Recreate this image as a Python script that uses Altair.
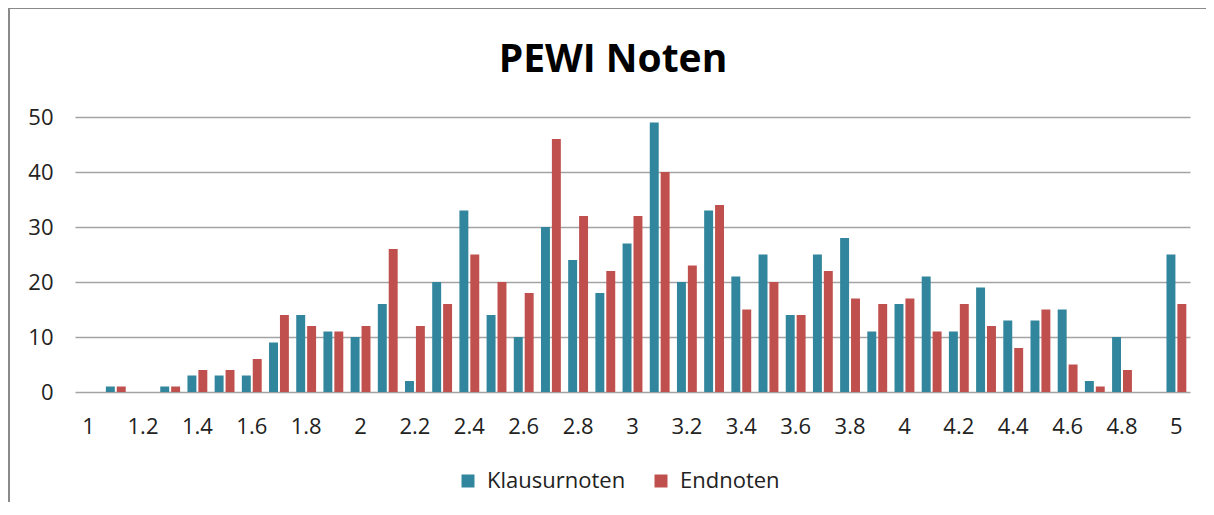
import altair as alt
import pandas as pd

grades = ["1", "1.1", "1.2", "1.3", "1.4", "1.5", "1.6", "1.7", "1.8", "1.9",
          "2", "2.1", "2.2", "2.3", "2.4", "2.5", "2.6", "2.7", "2.8", "2.9",
          "3", "3.1", "3.2", "3.3", "3.4", "3.5", "3.6", "3.7", "3.8", "3.9",
          "4", "4.1", "4.2", "4.3", "4.4", "4.5", "4.6", "4.7", "4.8", "4.9",
          "5"]
klausurnoten = [0, 1, 0, 1, 3, 3, 3, 9, 14, 11,
                10, 16, 2, 20, 33, 14, 10, 30, 24, 18,
                27, 49, 20, 33, 21, 25, 14, 25, 28, 11,
                16, 21, 11, 19, 13, 13, 15, 2, 10, 0,
                25]
endnoten = [0, 1, 0, 1, 4, 4, 6, 14, 12, 11,
            12, 26, 12, 16, 25, 20, 18, 46, 32, 22,
            32, 40, 23, 34, 15, 20, 14, 22, 17, 16,
            17, 11, 16, 12, 8, 15, 5, 1, 4, 0,
            16]
series = ["Klausurnoten", "Endnoten"]
colors = ["#31859C", "#C0504D"]
tick_labels = ["1", "1.2", "1.4", "1.6", "1.8", "2", "2.2", "2.4", "2.6", "2.8",
               "3", "3.2", "3.4", "3.6", "3.8", "4", "4.2", "4.4", "4.6", "4.8", "5"]
y_ticks = [0, 10, 20, 30, 40, 50]
title_text = ["PEWI Noten"]

df = pd.DataFrame({
    "Note": grades * 2,
    "Serie": [series[0]] * len(grades) + [series[1]] * len(grades),
    "Anzahl": klausurnoten + endnoten,
})

FONT = "Open Sans"

bars = alt.Chart(df).mark_bar().encode(
    x=alt.X("Note:N", sort=grades,
            scale=alt.Scale(paddingInner=0.27, paddingOuter=0.135),
            axis=alt.Axis(values=tick_labels, labelAngle=0, title=None, domain=False,
                          ticks=False, labelPadding=24, labelOverlap=False, grid=False)),
    xOffset=alt.XOffset("Serie:N", sort=series, scale=alt.Scale(paddingInner=0.18)),
    y=alt.Y("Anzahl:Q", scale=alt.Scale(domain=[0, 50], nice=False),
            axis=alt.Axis(values=y_ticks, title=None, domain=False, ticks=False,
                          labelPadding=22, gridColor="#A3A3A3", gridWidth=1.5)),
    color=alt.Color("Serie:N", sort=series,
                    scale=alt.Scale(domain=series, range=colors),
                    legend=alt.Legend(title=None, orient="none", legendX=382, legendY=353,
                                      direction="horizontal", symbolType="square",
                                      symbolSize=169, symbolStrokeWidth=0,
                                      labelFontSize=22, labelFont=FONT, labelColor="#222222",
                                      columnPadding=24, labelOffset=8, padding=0)),
)

frame = pd.DataFrame({"b": [0]})
border_top = alt.Chart(frame).mark_rule(stroke="#8A8A8A", strokeWidth=2).encode(
    x=alt.value(-67), x2=alt.value(1200), y=alt.value(-109)
)
border_left = alt.Chart(frame).mark_rule(stroke="#8A8A8A", strokeWidth=2).encode(
    x=alt.value(-66), y=alt.value(-110), y2=alt.value(450)
)

title = alt.Chart(pd.DataFrame({"t": title_text})).mark_text(
    font=FONT, fontSize=39, fontWeight="bold", align="center", baseline="alphabetic",
    color="#000000"
).encode(
    text="t:N", x=alt.value(538), y=alt.value(-45)
)

chart = alt.layer(border_top, border_left, bars, title).properties(
    width=1115,
    height=275,
    autosize=alt.AutoSizeParams(type="none"),
    padding={"left": 67, "top": 109, "right": 16, "bottom": 110},
).configure_view(stroke=None).configure_axis(
    labelFont=FONT, labelFontSize=22, labelColor="#222222"
)

chart.save("out.html", embed_options={"renderer": "svg", "actions": False})
